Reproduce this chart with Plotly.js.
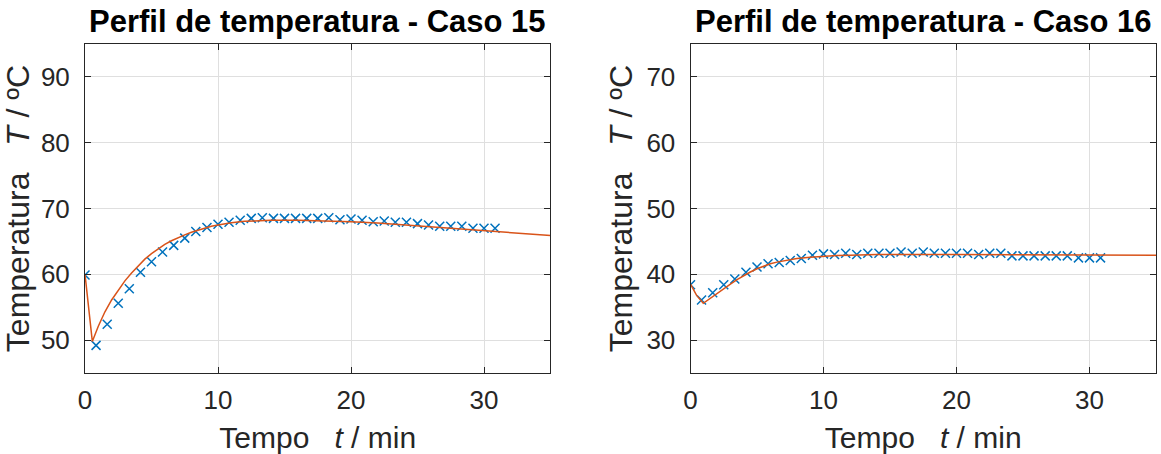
<!DOCTYPE html>
<html><head><meta charset="utf-8">
<script src="https://cdn.plot.ly/plotly-3.0.1.min.js"></script>
<style>html,body{margin:0;padding:0;background:#fff}</style>
</head><body><div id="chart" style="width:1161px;height:454px"></div>
<script>
// Measured points (time in min)
const tempoMedido = [0, 0.83, 1.67, 2.5, 3.33, 4.17, 5, 5.83, 6.67, 7.5, 8.33, 9.17, 10, 10.83, 11.67, 12.5, 13.33, 14.17, 15, 15.83, 16.67, 17.5, 18.33, 19.17, 20, 20.83, 21.67, 22.5, 23.33, 24.17, 25, 25.83, 26.67, 27.5, 28.33, 29.17, 30, 30.83];
const tempCaso15 = [59.9, 49.2, 52.4, 55.6, 57.8, 60.3, 61.9, 63.4, 64.4, 65.5, 66.5, 67.1, 67.6, 67.9, 68.2, 68.5, 68.6, 68.5, 68.5, 68.5, 68.5, 68.5, 68.6, 68.3, 68.4, 68.2, 68.0, 68.1, 67.9, 67.9, 67.7, 67.5, 67.3, 67.3, 67.3, 67.0, 67.0, 67.0];
const tempCaso16 = [38.4, 36.1, 37.2, 38.4, 39.3, 40.3, 41.1, 41.6, 41.8, 42.1, 42.4, 42.9, 43.1, 43.0, 43.2, 43.0, 43.2, 43.2, 43.2, 43.4, 43.2, 43.4, 43.2, 43.2, 43.2, 43.2, 43.0, 43.2, 43.2, 42.8, 42.8, 42.8, 42.8, 42.8, 42.8, 42.5, 42.5, 42.5];

// Model curves
const tempoModelo15 = [0, 0.55, 1.0, 1.5, 2.0, 2.5, 3.0, 3.5, 4.0, 4.5, 5.0, 5.5, 6.0, 6.5, 7.0, 7.5, 8.0, 8.5, 9.0, 9.5, 10, 11, 12, 13, 14, 16, 18, 20, 22, 24, 26, 28, 30, 32, 35];
const tempModelo15 = [60, 49.8, 52.1, 54.3, 56.1, 57.6, 59.0, 60.2, 61.3, 62.3, 63.15, 63.9, 64.55, 65.1, 65.6, 66.0, 66.4, 66.7, 67.05, 67.3, 67.5, 67.85, 68.05, 68.15, 68.2, 68.2, 68.15, 68.0, 67.8, 67.5, 67.2, 66.9, 66.55, 66.3, 65.9];
const tempoModelo16 = [0, 0.46, 0.96, 1.5, 2.0, 2.5, 3.0, 3.5, 4.0, 4.5, 5.0, 5.5, 6.0, 6.5, 7.0, 7.5, 8, 9, 10, 11, 12, 14, 20, 25, 30, 35];
const tempModelo16 = [38.5, 36.8, 35.6, 36.4, 37.1, 37.8, 38.5, 39.2, 39.8, 40.35, 40.85, 41.25, 41.6, 41.85, 42.05, 42.25, 42.4, 42.6, 42.75, 42.85, 42.9, 43.0, 43.0, 43.0, 43.0, 42.9];

const titulos = ['Perfil de temperatura - Caso 15', 'Perfil de temperatura - Caso 16'];
const xTitulo = 'Tempo\u00A0\u00A0\u00A0<i>t</i> / min';
const yTitulo = 'Temperatura\u00A0\u00A0\u00A0<i>T</i> / ºC\u00A0';

const azul = '#0072BD', laranja = '#D95319';
const FONT = '"Liberation Sans", Arial, sans-serif';

function marcador(x, y, xa, ya) {
  return {x: x, y: y, xaxis: xa, yaxis: ya, mode: 'markers', type: 'scatter',
    marker: {symbol: 'x-thin', size: 9, color: azul, line: {color: azul, width: 1.5}}, showlegend: false};
}
function linha(x, y, xa, ya) {
  return {x: x, y: y, xaxis: xa, yaxis: ya, mode: 'lines', type: 'scatter',
    line: {color: laranja, width: 1.5}, showlegend: false};
}

const data = [
  marcador(tempoMedido, tempCaso15, 'x', 'y'),
  linha(tempoModelo15, tempModelo15, 'x', 'y'),
  marcador(tempoMedido, tempCaso16, 'x2', 'y2'),
  linha(tempoModelo16, tempModelo16, 'x2', 'y2')
];

function eixoX(dom, anchor) {
  return {domain: dom, anchor: anchor, range: [0, 35], tickvals: [0, 10, 20, 30], ticks: 'inside', ticklen: 6, tickwidth: 1,
    tickcolor: '#262626', showline: true, linecolor: '#262626', linewidth: 1, mirror: 'ticks', showgrid: true,
    gridcolor: '#dfdfdf', gridwidth: 1, zeroline: false, ticklabelstandoff: 4,
    tickfont: {family: FONT, size: 26, color: '#262626'},
    title: {text: xTitulo, font: {family: FONT, size: 30, color: '#262626'}, standoff: 12}};
}
function eixoY(range, vals, anchor) {
  return {domain: [0, 1], anchor: anchor, range: range, tickvals: vals, ticks: 'inside', ticklen: 6, tickwidth: 1,
    tickcolor: '#262626', showline: true, linecolor: '#262626', linewidth: 1, mirror: 'ticks', showgrid: true,
    gridcolor: '#dfdfdf', gridwidth: 1, zeroline: false, ticklabelstandoff: 9,
    tickfont: {family: FONT, size: 26, color: '#262626'},
    title: {text: yTitulo, font: {family: FONT, size: 32, color: '#262626'}, standoff: 4}};
}

const layout = {
  width: 1161, height: 454, paper_bgcolor: '#fff', plot_bgcolor: '#fff',
  margin: {l: 85, r: 5, t: 44, b: 81},
  font: {family: FONT},
  xaxis: eixoX([0, 0.43464], 'y'),
  yaxis: eixoY([45, 95], [50, 60, 70, 80, 90], 'x'),
  xaxis2: eixoX([0.56536, 1], 'y2'),
  yaxis2: eixoY([25, 75], [30, 40, 50, 60, 70], 'x2'),
  annotations: titulos.map((t, i) => ({text: '<b>' + t + '</b>', xref: i ? 'x2 domain' : 'x domain', yref: 'paper',
    x: 0.5, y: 1, xanchor: 'center', yanchor: 'bottom', yshift: 3, showarrow: false,
    font: {family: FONT, size: 31, color: '#000'}}))
};

Plotly.newPlot('chart', data, layout, {displayModeBar: false, staticPlot: true});
</script></body></html>
